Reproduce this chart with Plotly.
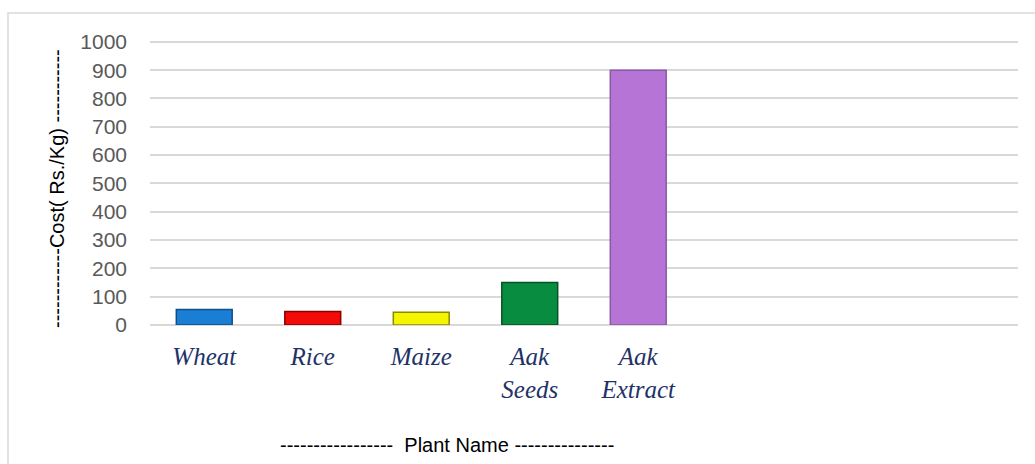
import plotly.graph_objects as go

categories = ["Wheat", "Rice", "Maize", "Aak<br>Seeds", "Aak<br>Extract"]
costs = [55, 48, 45, 150, 900]
bar_colors = ["#1a7fd4", "#f50a0a", "#f5f500", "#078c40", "#b574d6"]
edge_colors = ["#0d4f8a", "#8a0000", "#8a8a00", "#045226", "#8c58a6"]
n_slots = 8  # category slots on the axis (last three empty)
y_ticks = list(range(0, 1001, 100))
y_max = 1010

W, H = 1035, 464
L, R, T, B = 150, 17, 39, 139
pw, ph = W - L - R, H - T - B

def px_x(p):
    return (p - L) / pw

def px_y(p):
    return (H - B - p) / ph

positions = list(range(len(categories)))

fig = go.Figure()
fig.add_trace(go.Bar(
    x=positions,
    y=costs,
    width=0.515,
    marker=dict(color=bar_colors, line=dict(color=edge_colors, width=1.5)),
    hoverinfo="x+y",
    showlegend=False,
))

fig.update_layout(
    width=W, height=H,
    margin=dict(l=L, r=R, t=T, b=B),
    paper_bgcolor="white",
    plot_bgcolor="white",
    xaxis=dict(
        range=[-0.5, n_slots - 0.5],
        tickvals=positions,
        ticktext=categories,
        tickfont=dict(family="Liberation Serif", size=25, color="#1f3268", style="italic"),
        showgrid=False,
        zeroline=False,
        showline=False,
        ticks="",
        ticklabelstandoff=14,
    ),
    yaxis=dict(
        range=[0, y_max],
        tickvals=y_ticks,
        tickfont=dict(family="Liberation Sans", size=21, color="#595959"),
        showgrid=True,
        gridcolor="#d9d9d9",
        gridwidth=2,
        zeroline=True,
        zerolinecolor="#d9d9d9",
        zerolinewidth=2,
        showline=False,
        ticks="",
        ticklabelstandoff=22,
    ),
    shapes=[dict(
        type="rect", xref="paper", yref="paper",
        x0=px_x(8), x1=px_x(1045), y0=px_y(475), y1=px_y(13),
        line=dict(color="#d9d9d9", width=1.5), fillcolor="rgba(0,0,0,0)",
        layer="below",
    )],
    annotations=[
        dict(
            text="------------Cost( Rs./Kg) -----------",
            xref="paper", yref="paper",
            x=px_x(57), y=px_y(189),
            textangle=-90, showarrow=False,
            font=dict(family="Liberation Sans", size=20, color="black"),
            xanchor="center", yanchor="middle",
        ),
        dict(
            text="-----------------  Plant Name ---------------",
            xref="paper", yref="paper",
            x=px_x(447), y=px_y(445),
            showarrow=False,
            font=dict(family="Liberation Sans", size=20, color="black"),
            xanchor="center", yanchor="middle",
        ),
    ],
)

fig.write_html(
    "out.html",
    config={"displayModeBar": False},
    post_script="document.body.style.margin='0';document.body.style.overflow='hidden';",
)
